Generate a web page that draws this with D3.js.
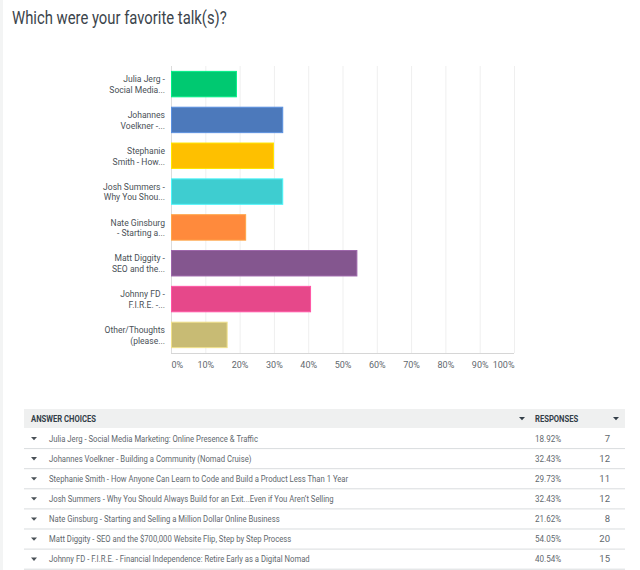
<!DOCTYPE html>
<html>
<head>
<meta charset="utf-8">
<script src="https://cdn.jsdelivr.net/npm/d3@7"></script>
<style>
  html, body { margin: 0; padding: 0; background: #fff; }
  svg { display: block; font-family: "Roboto", "Liberation Sans", sans-serif; }
</style>
</head>
<body>
<svg id="chart" width="640" height="570"></svg>
<script>
// survey answers, in the order shown
var choices = [
    'Julia Jerg - Social Media Marketing: Online Presence & Traffic',
    'Johannes Voelkner - Building a Community (Nomad Cruise)',
    'Stephanie Smith - How Anyone Can Learn to Code and Build a Product Less Than 1 Year',
    'Josh Summers - Why You Should Always Build for an Exit...Even if You Aren\u2019t Selling',
    'Nate Ginsburg - Starting and Selling a Million Dollar Online Business',
    'Matt Diggity - SEO and the $700,000 Website Flip, Step by Step Process',
    'Johnny FD - F.I.R.E. - Financial Independence: Retire Early as a Digital Nomad',
    'Other/Thoughts (please specify)'
];
// truncated two-line labels used on the chart axis
var shortLabels = [
    ['Julia Jerg -', 'Social Media...'],
    ['Johannes', 'Voelkner -...'],
    ['Stephanie', 'Smith - How...'],
    ['Josh Summers -', 'Why You Shou...'],
    ['Nate Ginsburg', '- Starting a...'],
    ['Matt Diggity -', 'SEO and the...'],
    ['Johnny FD -', 'F.I.R.E. -...'],
    ['Other/Thoughts', '(please...']
];
var percents = [18.92, 32.43, 29.73, 32.43, 21.62, 54.05, 40.54, 16.22];
var counts = [7, 12, 11, 12, 8, 20, 15, 6];
var barColors = ['#00c971', '#4c79bb', '#fec000', '#3ecdd0', '#ff8a3c', '#84568f', '#e6488a', '#c8bb74'];
var xTicks = [0, 10, 20, 30, 40, 50, 60, 70, 80, 90, 100];

var svg = d3.select('#chart');

// the survey font is narrow, squeeze Roboto a bit to get close
function condense(sel, k) {
    sel.each(function(){
        var len = this.getComputedTextLength();
        if (len > 0) {
            d3.select(this).attr('textLength', len * k).attr('lengthAdjust', 'spacingAndGlyphs');
        }
    });
}

// faint page edge
svg.append('rect').attr('x', 0).attr('y', 0).attr('width', 3).attr('height', 570).attr('fill', '#f3f4f4');

svg.append('text')
    .attr('x', 12).attr('y', 23.5)
    .attr('fill', '#3b444b')
    .style('font-size', '19px')
    .text('Which were your favorite talk(s)?')
    .call(condense, 0.78);

var x = d3.scaleLinear().domain([0, 100]).range([171, 514]);
var y = d3.scaleBand().domain(d3.range(choices.length)).range([66, 353])
    .paddingInner(0.29).paddingOuter(0.15);

var plot = svg.append('g').attr('class', 'plot');

// grid
plot.selectAll('line.grid')
    .data(xTicks)
    .enter().append('line')
    .attr('class', 'grid')
    .attr('x1', function(d){ return x(d) + 0.5; })
    .attr('x2', function(d){ return x(d) + 0.5; })
    .attr('y1', 66).attr('y2', 353)
    .attr('stroke', function(d){ return d === 0 ? '#dcdcdc' : '#efefef'; })
    .attr('stroke-width', 1);

plot.append('line')
    .attr('x1', x(0)).attr('x2', x(100))
    .attr('y1', 353.5).attr('y2', 353.5)
    .attr('stroke', '#d6d6d6');

// bars
plot.selectAll('rect.bar')
    .data(percents)
    .enter().append('rect')
    .attr('class', 'bar')
    .attr('x', x(0) + 0.5)
    .attr('y', function(d, i){ return y(i); })
    .attr('width', function(d){ return x(d) - x(0); })
    .attr('height', y.bandwidth())
    .attr('fill', function(d, i){ return barColors[i]; })
    .attr('stroke', function(d, i){ return d3.color(barColors[i]).brighter(0.5); })
    .attr('stroke-width', 1);

// category labels
var labelGroup = plot.selectAll('text.cat')
    .data(shortLabels)
    .enter().append('text')
    .attr('class', 'cat')
    .attr('text-anchor', 'end')
    .attr('fill', '#4a5157')
    .style('font-size', '9.5px');

labelGroup.each(function(lines, i){
    var t = d3.select(this);
    var cy = y(i) + y.bandwidth() / 2;
    lines.forEach(function(line, k){
        t.append('tspan')
            .attr('x', 165)
            .attr('y', cy + (k - 0.5) * 10.5 + 3.5)
            .text(line);
    });
});
labelGroup.selectAll('tspan').call(condense, 0.9);

// x axis labels
var xAxis = d3.axisBottom(x)
    .tickValues(xTicks)
    .tickSize(0)
    .tickPadding(9)
    .tickFormat(function(d){ return d + '%'; });

var axisG = svg.append('g')
    .attr('transform', 'translate(0,353)')
    .call(xAxis);
axisG.select('.domain').remove();
axisG.selectAll('text')
    .attr('fill', '#5f686e')
    .style('font-size', '9px')
    .style('font-family', '"Roboto", sans-serif')
    .attr('text-anchor', function(d){ return d === 0 ? 'start' : (d === 100 ? 'end' : 'middle'); });

// table
var tbl = svg.append('g').attr('class', 'table');
var tLeft = 24, tRight = 625, headTop = 409, headH = 19, rowH = 20.1;
var pageH = +svg.attr('height');

tbl.append('rect')
    .attr('x', tLeft).attr('y', headTop)
    .attr('width', tRight - tLeft).attr('height', headH)
    .attr('fill', '#eff0f0');

function triangle(g, cx, cy, color) {
    g.append('path')
        .attr('d', 'M' + (cx - 3) + ',' + (cy - 1.5) + 'L' + (cx + 3) + ',' + (cy - 1.5) + 'L' + cx + ',' + (cy + 1.8) + 'Z')
        .attr('fill', color);
}

tbl.append('text')
    .attr('x', 31).attr('y', headTop + 13)
    .attr('fill', '#333e48')
    .style('font-size', '9px').style('font-weight', 'bold')
    .text('ANSWER CHOICES')
    .call(condense, 0.85);
tbl.append('text')
    .attr('x', 535).attr('y', headTop + 13)
    .attr('fill', '#333e48')
    .style('font-size', '9px').style('font-weight', 'bold')
    .text('RESPONSES')
    .call(condense, 0.85);
triangle(tbl, 522, headTop + 9.5, '#333e48');
triangle(tbl, 616, headTop + 9.5, '#333e48');

// only the rows that fit on the page are shown, like the screenshot
var rowData = choices.filter(function(d, i){ return headTop + headH + (i + 1) * rowH <= pageH; });

var rows = tbl.selectAll('g.row')
    .data(rowData)
    .enter().append('g')
    .attr('class', 'row')
    .attr('transform', function(d, i){ return 'translate(0,' + (headTop + headH + i * rowH) + ')'; });

rows.append('line')
    .attr('x1', tLeft).attr('x2', tRight)
    .attr('y1', rowH + 0.5).attr('y2', rowH + 0.5)
    .attr('stroke', '#d9dcde');

rows.each(function(){ triangle(d3.select(this), 34, 10.5, '#4a5157'); });

rows.append('text')
    .attr('x', 49).attr('y', 13.5)
    .attr('fill', '#5f686e')
    .style('font-size', '9.5px')
    .text(function(d){ return d; })
    .call(condense, 0.81);

rows.append('text')
    .attr('x', 535).attr('y', 13.5)
    .attr('fill', '#5f686e')
    .style('font-size', '9.5px')
    .text(function(d, i){ return percents[i].toFixed(2) + '%'; })
    .call(condense, 0.85);

rows.append('text')
    .attr('x', 610).attr('y', 13.5)
    .attr('text-anchor', 'end')
    .attr('fill', '#5f686e')
    .style('font-size', '9.5px')
    .text(function(d, i){ return counts[i]; });
</script>
</body>
</html>
